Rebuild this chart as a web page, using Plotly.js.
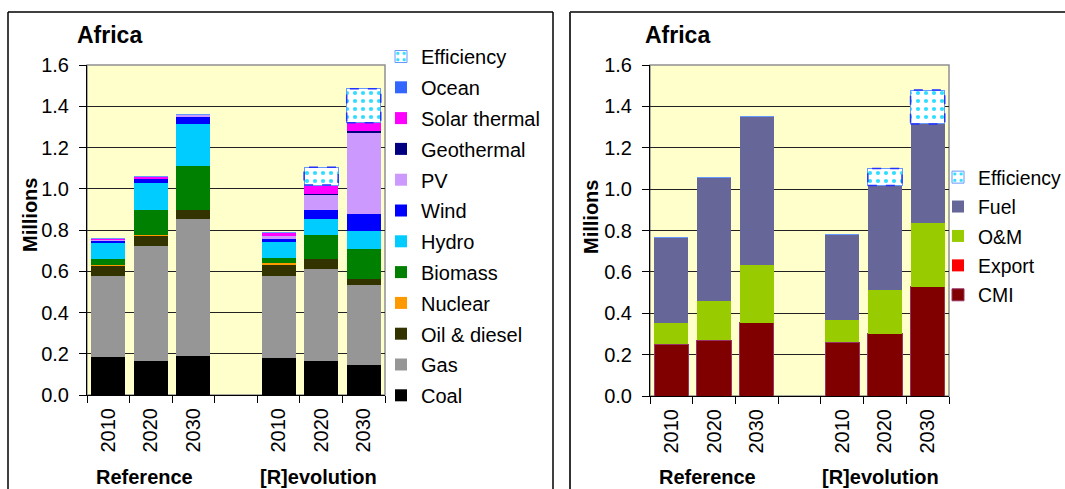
<!DOCTYPE html>
<html>
<head>
<meta charset="utf-8">
<script src="https://cdn.plot.ly/plotly-3.0.1.min.js"></script>
<style>
  html, body { margin: 0; padding: 0; background: #ffffff; overflow: hidden; }
  #wrap { width: 1065px; height: 489px; overflow: hidden; position: relative; }
  #chart { width: 1100px; height: 489px; }
</style>
</head>
<body>
<div id="wrap"><div id="chart"></div></div>
<script>
// ---- data ----
const years = ['2010', '2020', '2030', '', '2010', '2020', '2030'];
const groups = ['Reference', '[R]evolution'];
const chartTitle = 'Africa';
const yTitle = 'Millions';

// Left chart: electricity generation technologies (millions), gap slot = null
const coal         = [0.186, 0.165, 0.191, null, 0.181, 0.165, 0.145];
const gas          = [0.391, 0.557, 0.662, null, 0.396, 0.446, 0.388];
const oilDiesel    = [0.048, 0.049, 0.044, null, 0.053, 0.048, 0.029];
const nuclear      = [0.005, 0.005, 0.000, null, 0.010, 0.000, 0.000];
const biomass      = [0.029, 0.121, 0.213, null, 0.024, 0.117, 0.146];
const hydro        = [0.078, 0.131, 0.204, null, 0.078, 0.077, 0.087];
const wind         = [0.010, 0.019, 0.034, null, 0.014, 0.044, 0.083];
const pv           = [0.004, 0.000, 0.010, null, 0.015, 0.073, 0.392];
const geothermal   = [0.000, 0.000, 0.000, null, 0.002, 0.005, 0.010];
const solarThermal = [0.006, 0.010, 0.000, null, 0.014, 0.043, 0.040];
const ocean        = [0.000, 0.000, 0.000, null, 0.000, 0.000, 0.000];
const efficiencyL  = [0.000, 0.000, 0.000, null, 0.000, 0.086, 0.165];

// Right chart: by type
const cmi          = [0.251, 0.270, 0.355, null, 0.259, 0.302, 0.529];
const exportJobs   = [0.000, 0.000, 0.000, null, 0.000, 0.000, 0.000];
const om           = [0.104, 0.187, 0.280, null, 0.106, 0.208, 0.306];
const fuel         = [0.410, 0.598, 0.714, null, 0.415, 0.508, 0.480];
const efficiencyR  = [0.000, 0.000, 0.000, null, 0.000, 0.082, 0.164];

// ---- styling ----
const FONT = '"Liberation Sans", Arial, sans-serif';
// the figure is laid out a little wider than the 1065px window so the right-hand
// legend (which runs to the edge in the original) does not push the margins
const W = 1100, H = 489;
const px = v => v / W;
const py = v => (H - v) / H;
const xpos = years.map((_, i) => i);

const leftSeries = [
  {name: 'Coal', y: coal, color: '#000000'},
  {name: 'Gas', y: gas, color: '#969696'},
  {name: 'Oil & diesel', y: oilDiesel, color: '#333300'},
  {name: 'Nuclear', y: nuclear, color: '#FF9900'},
  {name: 'Biomass', y: biomass, color: '#008000'},
  {name: 'Hydro', y: hydro, color: '#00CCFF'},
  {name: 'Wind', y: wind, color: '#0000FF'},
  {name: 'PV', y: pv, color: '#CC99FF'},
  {name: 'Geothermal', y: geothermal, color: '#000080'},
  {name: 'Solar thermal', y: solarThermal, color: '#FF00FF'},
  {name: 'Ocean', y: ocean, color: '#3366FF'},
  {name: 'Efficiency', y: efficiencyL, eff: true}
];
const rightSeries = [
  {name: 'CMI', y: cmi, color: '#800000', line: '#993366'},
  {name: 'Export', y: exportJobs, color: '#FF0000'},
  {name: 'O&M', y: om, color: '#99CC00'},
  {name: 'Fuel', y: fuel, color: '#666699'},
  {name: 'Efficiency', y: efficiencyR, eff: true}
];

function makeTraces(series, xa, ya, legendName, prefix) {
  const n = series.length;
  return series.map((s, k) => {
    const t = {
      type: 'bar', x: xpos, y: s.y, name: s.name,
      xaxis: xa, yaxis: ya, legend: legendName,
      legendgroup: prefix + s.name, legendrank: (n - k) * 10,
      hoverinfo: 'name+y'
    };
    if (s.eff) {
      t.marker = {
        color: '#FFFFFF',
        pattern: {shape: '.', fgcolor: '#33DDFF', bgcolor: '#FFFFFF', size: 8, solidity: 0.22},
        line: {color: '#6699FF', width: 1}
      };
    } else {
      t.marker = {color: s.color, line: {color: s.line || s.color, width: s.line ? 1 : 0}};
    }
    return t;
  });
}

function effShapes(series, xa, ya) {
  const shapes = [];
  const eff = series[series.length - 1].y;
  eff.forEach((e, i) => {
    if (!e) return;
    let base = 0;
    series.slice(0, -1).forEach(s => { base += s.y[i] || 0; });
    shapes.push({
      type: 'rect', xref: xa, yref: ya,
      x0: xpos[i] - 0.4, x1: xpos[i] + 0.4, y0: base, y1: base + e,
      line: {color: '#2233FF', width: 1.5, dash: 'dash'}, layer: 'above'
    });
  });
  return shapes;
}

const data = [
  ...makeTraces(leftSeries, 'x', 'y', 'legend', 'L'),
  ...makeTraces(rightSeries, 'x2', 'y2', 'legend2', 'R')
];

const xaxisBase = {
  range: [-0.5, 6.5], tickmode: 'array', tickvals: xpos.filter((_, i) => years[i] !== ''),
  ticktext: years.filter(y => y !== ''), tickangle: -90, ticks: '',
  tickfont: {family: FONT, size: 20, color: '#000'}, ticklabelstandoff: 4,
  showline: true, linecolor: '#000', linewidth: 1, showgrid: false, zeroline: false,
  minor: {tickmode: 'linear', tick0: 0.5, dtick: 1, ticks: 'outside', ticklen: 7, tickcolor: '#000', tickwidth: 1, showgrid: false},
  fixedrange: true, automargin: false
};
const yaxisBase = {
  range: [0, 1.6], dtick: 0.2, tick0: 0, tickformat: '.1f',
  ticks: 'outside', ticklen: 7, tickcolor: '#000', tickwidth: 1,
  tickfont: {family: FONT, size: 20, color: '#000'}, ticklabelstandoff: 6,
  showline: true, linecolor: '#000', linewidth: 1,
  showgrid: true, gridcolor: '#222', gridwidth: 1, zeroline: false, fixedrange: true, automargin: false
};

const annotations = [];
function addText(text, x, y, opts) {
  annotations.push(Object.assign({
    text: text, xref: 'paper', yref: 'paper', x: px(x), y: py(y),
    showarrow: false, font: {family: FONT, size: 20, color: '#000'}
  }, opts || {}));
}
addText('<b>' + chartTitle + '</b>', 75, 35, {xanchor: 'left', yanchor: 'middle', font: {family: FONT, size: 23, color: '#000'}});
addText('<b>' + chartTitle + '</b>', 643, 35, {xanchor: 'left', yanchor: 'middle', font: {family: FONT, size: 23, color: '#000'}});
addText('<b>' + yTitle + '</b>', 30, 215, {textangle: -90, xanchor: 'center', yanchor: 'middle'});
addText('<b>' + yTitle + '</b>', 591, 217, {textangle: -90, xanchor: 'center', yanchor: 'middle'});
addText('<b>' + groups[0] + '</b>', 144, 477, {xanchor: 'center', yanchor: 'middle'});
addText('<b>' + groups[1] + '</b>', 318, 477, {xanchor: 'center', yanchor: 'middle'});
addText('<b>' + groups[0] + '</b>', 707, 477, {xanchor: 'center', yanchor: 'middle'});
addText('<b>' + groups[1] + '</b>', 880, 477, {xanchor: 'center', yanchor: 'middle'});

function pline(x0, y0, x1, y1, color, width) {
  return {type: 'line', xref: 'paper', yref: 'paper', x0: px(x0), y0: py(y0), x1: px(x1), y1: py(y1),
          line: {color: color, width: width}, layer: 'below'};
}

const shapes = [
  // outer chart boxes (they continue past the bottom / right edge of the picture)
  pline(8, 12, 553, 12, '#000', 1.5),
  pline(8, 12, 8, 489, '#000', 1.5),
  pline(553, 12, 553, 489, '#000', 1.5),
  pline(570, 12, 1100, 12, '#000', 1.5),
  pline(570, 12, 570, 489, '#333', 2),
  // plot area borders (top/right in gray)
  {type: 'rect', xref: 'x domain', yref: 'y domain', x0: 0, x1: 1, y0: 0, y1: 1, line: {color: '#909090', width: 1.5}, layer: 'below'},
  {type: 'rect', xref: 'x2 domain', yref: 'y2 domain', x0: 0, x1: 1, y0: 0, y1: 1, line: {color: '#909090', width: 1.5}, layer: 'below'},
  ...effShapes(leftSeries, 'x', 'y'),
  ...effShapes(rightSeries, 'x2', 'y2')
];

const legendBase = {
  xanchor: 'left', yanchor: 'top', bgcolor: 'rgba(0,0,0,0)', borderwidth: 0,
  font: {family: FONT, size: 20, color: '#000'}, traceorder: 'grouped',
  itemclick: false, itemdoubleclick: false
};

const layout = {
  width: W, height: H,
  margin: {l: 0, r: 0, t: 0, b: 0, autoexpand: false},
  paper_bgcolor: '#FFFFFF', plot_bgcolor: '#FFFFCC',
  barmode: 'stack', bargap: 0.2,
  showlegend: true,
  xaxis: Object.assign({}, xaxisBase, {domain: [px(87), px(385)], anchor: 'y'}),
  yaxis: Object.assign({}, yaxisBase, {domain: [py(395), py(65)], anchor: 'x'}),
  xaxis2: Object.assign({}, xaxisBase, {domain: [px(650), px(949)], anchor: 'y2'}),
  yaxis2: Object.assign({}, yaxisBase, {domain: [py(396), py(65)], anchor: 'x2'}),
  legend: Object.assign({}, legendBase, {x: px(381), y: py(37), tracegroupgap: 1.8}),
  legend2: Object.assign({}, legendBase, {x: px(938), y: py(158), tracegroupgap: 1.2,
                                          font: {family: FONT, size: 19.4, color: '#000'}}),
  annotations: annotations,
  shapes: shapes
};

Plotly.newPlot('chart', data, layout, {staticPlot: true, displayModeBar: false});
</script>
</body>
</html>
